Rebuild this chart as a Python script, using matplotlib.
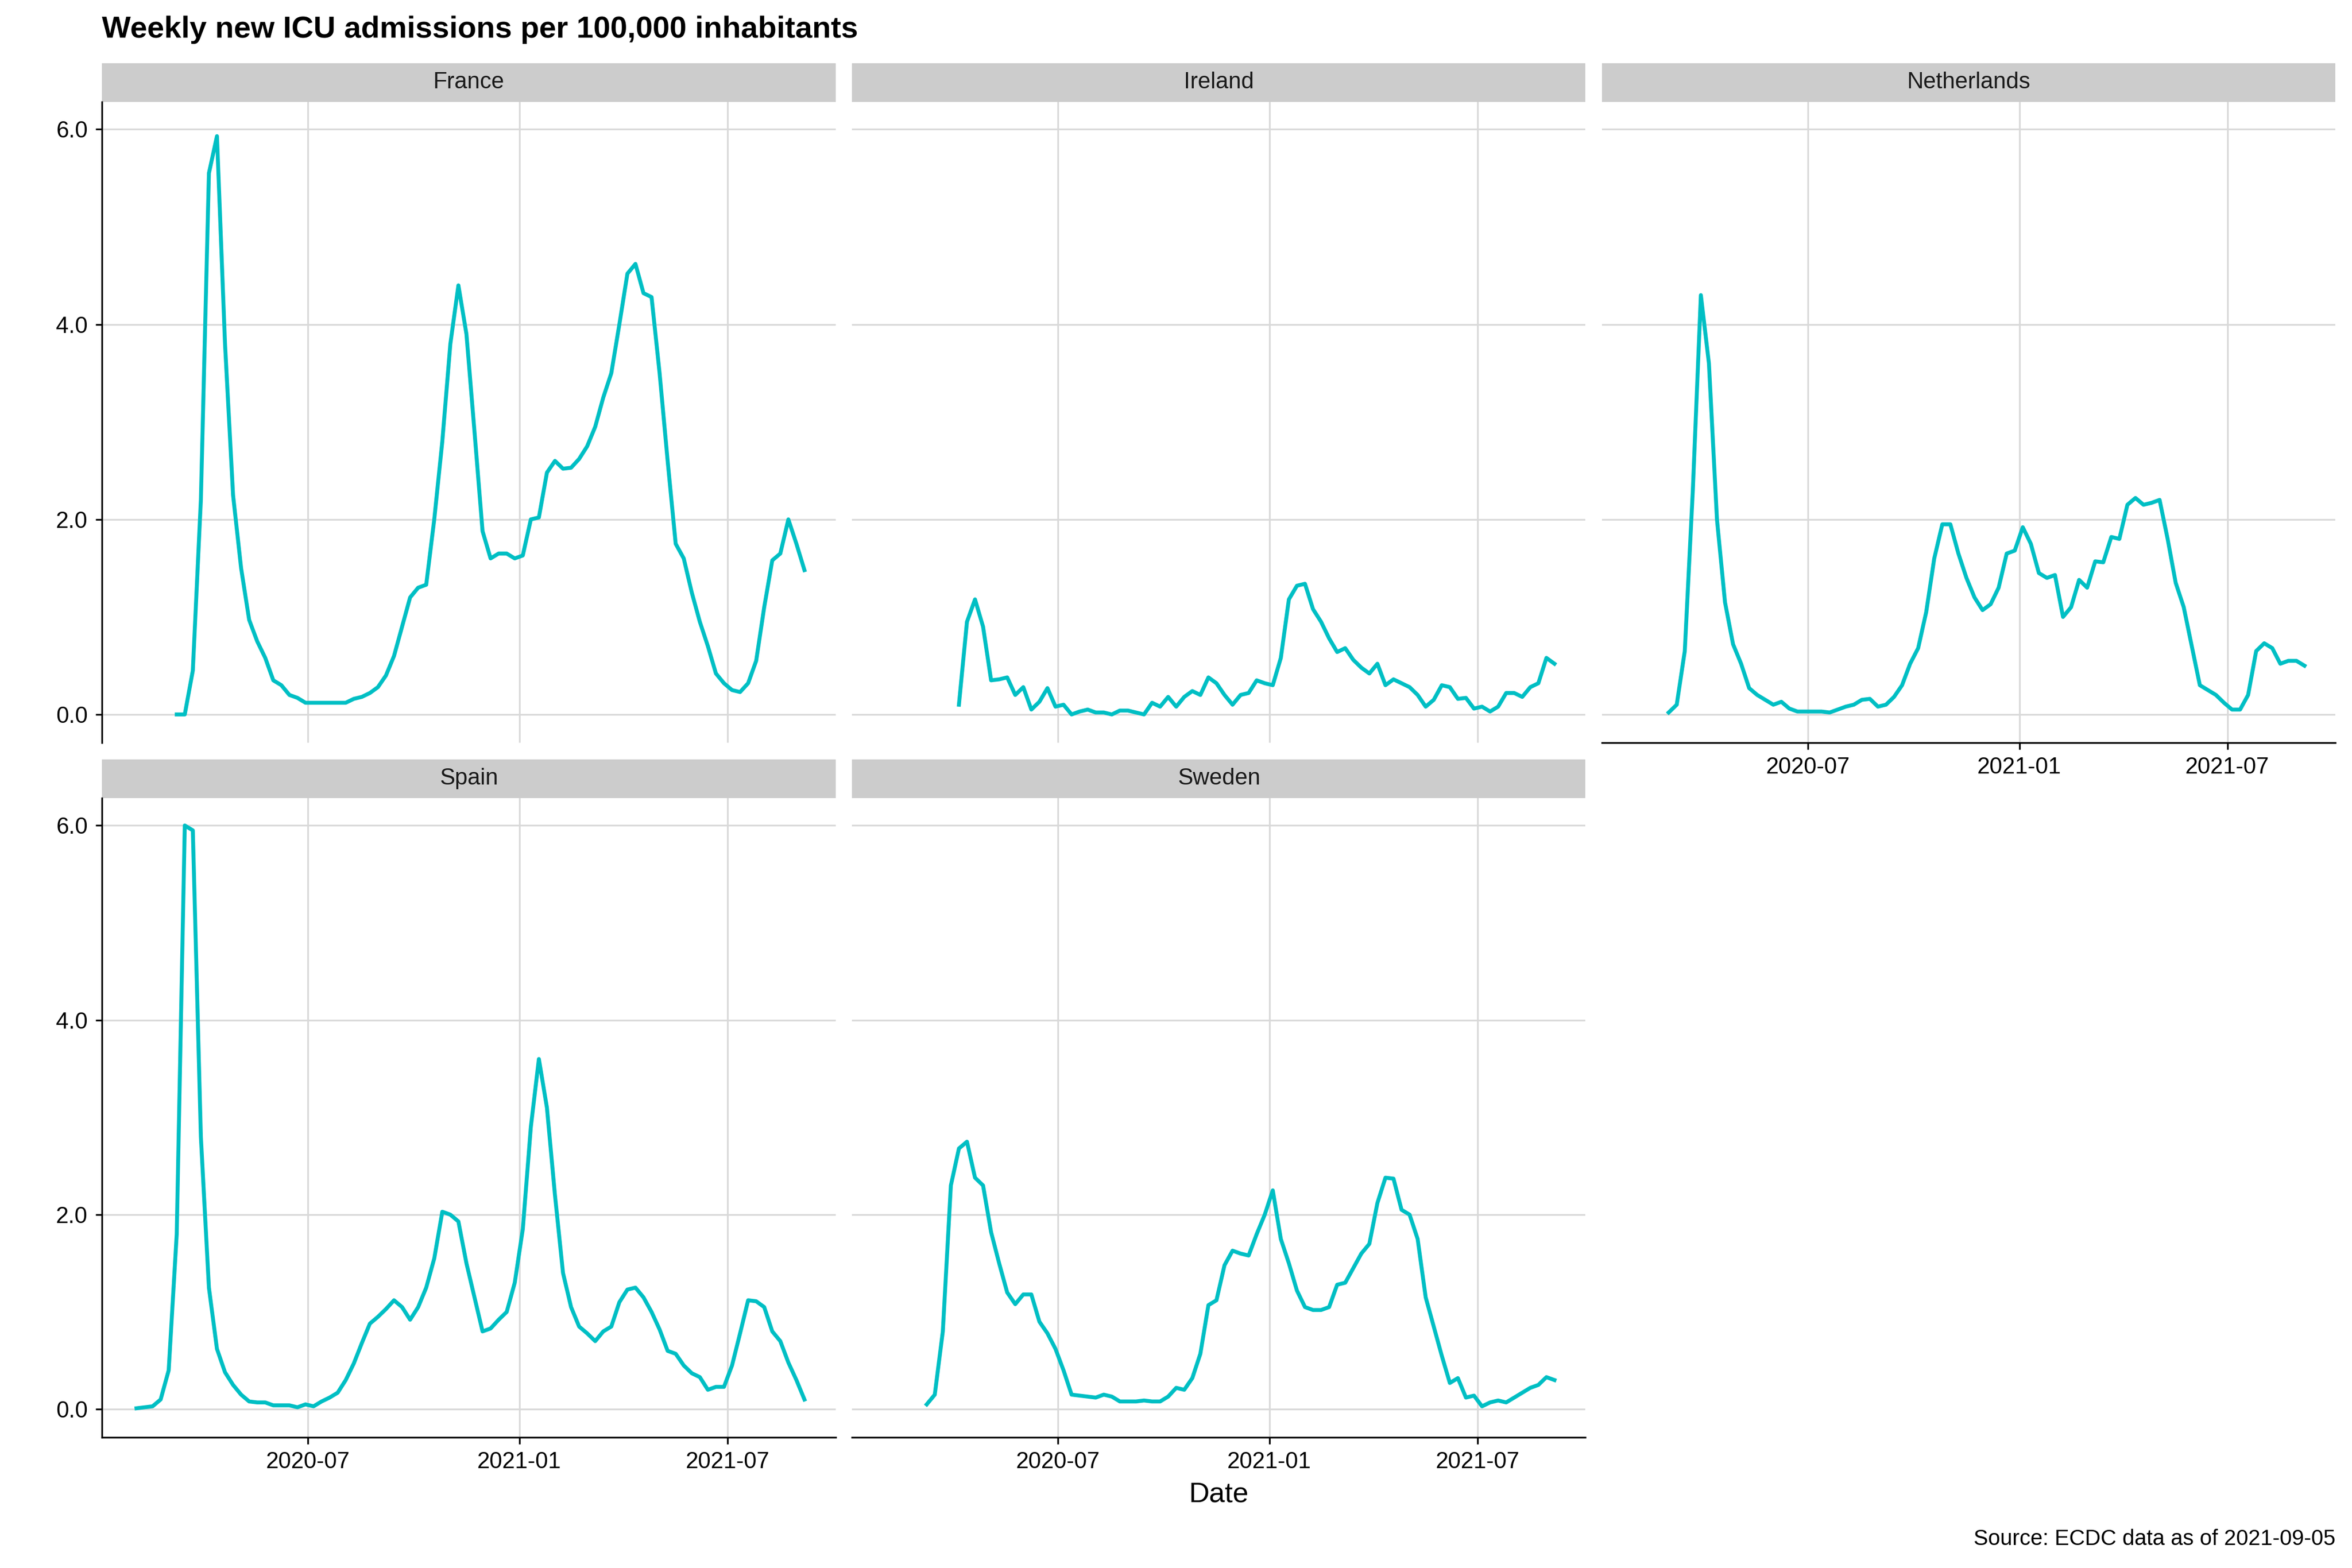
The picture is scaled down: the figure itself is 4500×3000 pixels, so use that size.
import matplotlib
matplotlib.use("Agg")
import matplotlib.pyplot as plt
import matplotlib.dates as mdates
import pandas as pd

countries = ["France", "Ireland", "Netherlands", "Spain", "Sweden"]
end_date = "2021-09-06"
france = [0, 0, 0.45, 2.2, 5.55, 5.93, 3.8, 2.25, 1.5, 0.97, 0.75, 0.58, 0.35, 0.3, 0.2, 0.17, 0.12, 0.12, 0.12,
          0.12, 0.12, 0.12, 0.16, 0.18, 0.22, 0.28, 0.4, 0.6, 0.9, 1.2, 1.3, 1.33, 2.0, 2.8, 3.8, 4.4, 3.9, 2.9, 1.88,
          1.6, 1.65, 1.65, 1.6, 1.63, 2.0, 2.02, 2.48, 2.6, 2.52, 2.53, 2.62, 2.75, 2.95, 3.25, 3.5, 4.0, 4.52, 4.62,
          4.32, 4.28, 3.5, 2.6, 1.75, 1.6, 1.25, 0.95, 0.7, 0.42, 0.32, 0.25, 0.23, 0.32, 0.55, 1.1, 1.58, 1.65, 2.0,
          1.75, 1.48]
ireland = [0.1, 0.95, 1.18, 0.9, 0.35, 0.36, 0.38, 0.2, 0.28, 0.05, 0.13, 0.27, 0.08, 0.1, 0.0, 0.03, 0.05, 0.02,
           0.02, 0.0, 0.04, 0.04, 0.02, 0.0, 0.12, 0.08, 0.18, 0.08, 0.18, 0.24, 0.2, 0.38, 0.32, 0.2, 0.1, 0.2, 0.22,
           0.35, 0.32, 0.3, 0.58, 1.18, 1.32, 1.34, 1.08, 0.95, 0.78, 0.64, 0.68, 0.56, 0.48, 0.42, 0.52, 0.3, 0.36,
           0.32, 0.28, 0.2, 0.08, 0.15, 0.3, 0.28, 0.16, 0.17, 0.06, 0.08, 0.03, 0.08, 0.22, 0.22, 0.18, 0.28, 0.32,
           0.58, 0.52]
netherlands = [0.02, 0.1, 0.65, 2.3, 4.3, 3.6, 2.0, 1.15, 0.72, 0.52, 0.27, 0.2, 0.15, 0.1, 0.13, 0.06, 0.03, 0.03,
               0.03, 0.03, 0.02, 0.05, 0.08, 0.1, 0.15, 0.16, 0.08, 0.1, 0.18, 0.3, 0.52, 0.68, 1.05, 1.6, 1.95, 1.95,
               1.65, 1.4, 1.2, 1.07, 1.13, 1.3, 1.65, 1.68, 1.92, 1.75, 1.45, 1.4, 1.43, 1.0, 1.1, 1.38, 1.3, 1.57,
               1.56, 1.82, 1.8, 2.15, 2.22, 2.15, 2.17, 2.2, 1.8, 1.35, 1.1, 0.7, 0.3, 0.25, 0.2, 0.12, 0.05, 0.05,
               0.2, 0.65, 0.73, 0.68, 0.52, 0.55, 0.55, 0.5]
spain = [0.01, 0.02, 0.03, 0.1, 0.4, 1.8, 6.0, 5.95, 2.8, 1.25, 0.62, 0.38, 0.25, 0.15, 0.08, 0.07, 0.07, 0.04, 0.04,
         0.04, 0.02, 0.05, 0.03, 0.08, 0.12, 0.17, 0.3, 0.47, 0.68, 0.88, 0.95, 1.03, 1.12, 1.05, 0.92, 1.05, 1.25,
         1.55, 2.03, 2.0, 1.93, 1.5, 1.15, 0.8, 0.83, 0.92, 1.0, 1.3, 1.85, 2.9, 3.6, 3.1, 2.2, 1.4, 1.05, 0.85, 0.78,
         0.7, 0.8, 0.85, 1.1, 1.23, 1.25, 1.15, 1.0, 0.82, 0.6, 0.57, 0.45, 0.37, 0.33, 0.2, 0.23, 0.23, 0.45, 0.78,
         1.12, 1.11, 1.05, 0.8, 0.7, 0.48, 0.3, 0.1]
sweden = [0.05, 0.15, 0.8, 2.3, 2.68, 2.75, 2.38, 2.3, 1.82, 1.5, 1.2, 1.08, 1.18, 1.18, 0.9, 0.78, 0.62, 0.4, 0.15,
          0.14, 0.13, 0.12, 0.15, 0.13, 0.08, 0.08, 0.08, 0.09, 0.08, 0.08, 0.13, 0.22, 0.2, 0.32, 0.57, 1.07, 1.12,
          1.48, 1.63, 1.6, 1.58, 1.8, 2.0, 2.25, 1.75, 1.5, 1.22, 1.05, 1.02, 1.02, 1.05, 1.28, 1.3, 1.45, 1.6, 1.7,
          2.12, 2.38, 2.37, 2.05, 2.0, 1.75, 1.15, 0.85, 0.55, 0.27, 0.32, 0.12, 0.14, 0.03, 0.07, 0.09, 0.07, 0.12,
          0.17, 0.22, 0.25, 0.33, 0.3]
series = [france, ireland, netherlands, spain, sweden]
xticks = ["2020-07-01", "2021-01-01", "2021-07-01"]
yticks = [0, 2, 4, 6]

plt.rcParams['font.family'] = ['Liberation Sans', 'DejaVu Sans']
W, H = 1568, 1045
fig = plt.figure(figsize=(15, 10), dpi=300)
cols = [(68, 557), (568, 1057), (1068, 1557)]
rows = [(42, 68, 495), (506, 532, 958)]
xmin, xmax = pd.Timestamp("2020-01-04"), pd.Timestamp("2021-10-03")

def rect(x0, x1, y0, y1):
    return [x0 / W, 1 - y1 / H, (x1 - x0) / W, (y1 - y0) / H]

for i, (name, vals) in enumerate(zip(countries, series)):
    r, c = divmod(i, 3)
    x0, x1 = cols[c]
    ys, y0, y1 = rows[r]
    sax = fig.add_axes(rect(x0, x1, ys, y0))
    sax.set_facecolor("#CCCCCC")
    sax.set_xticks([]); sax.set_yticks([])
    for s in sax.spines.values():
        s.set_visible(False)
    sax.text(0.5, 0.5, name, ha="center", va="center", fontsize=10.5, color="#1A1A1A", transform=sax.transAxes)
    ax = fig.add_axes(rect(x0, x1, y0, y1))
    dates = pd.date_range(end=end_date, periods=len(vals), freq="7D")
    ax.plot(dates, vals, color="#00BFC4", lw=1.8, zorder=3)
    ax.set_xlim(xmin, xmax)
    ax.set_ylim(-0.29, 6.28)
    ax.set_xticks(pd.to_datetime(xticks))
    ax.xaxis.set_major_formatter(mdates.DateFormatter("%Y-%m"))
    ax.set_yticks(yticks)
    ax.set_yticklabels([f"{v:.1f}" for v in yticks])
    ax.grid(True, color="#D9D9D9", lw=0.8)
    ax.set_axisbelow(True)
    for s in ["top", "right"]:
        ax.spines[s].set_visible(False)
    show_x = (r == 1) or (i == 2)
    show_y = c == 0
    ax.spines["bottom"].set_visible(show_x)
    ax.spines["left"].set_visible(show_y)
    ax.tick_params(axis="x", labelbottom=show_x, length=3 if show_x else 0, labelsize=10.5, colors="black")
    ax.tick_params(axis="y", labelleft=show_y, length=3 if show_y else 0, labelsize=10.5, colors="black")
    if i == 4:
        ax.set_xlabel("Date", fontsize=13)

fig.text(68 / W, 1 - 20 / H, "Weekly new ICU admissions per 100,000 inhabitants", fontsize=14,
         fontweight="bold", va="center", ha="left")
fig.text(1557 / W, 1 - 1026 / H, "Source: ECDC data as of 2021-09-05", fontsize=10, ha="right", va="center")
fig.savefig("out.png", dpi=300)
